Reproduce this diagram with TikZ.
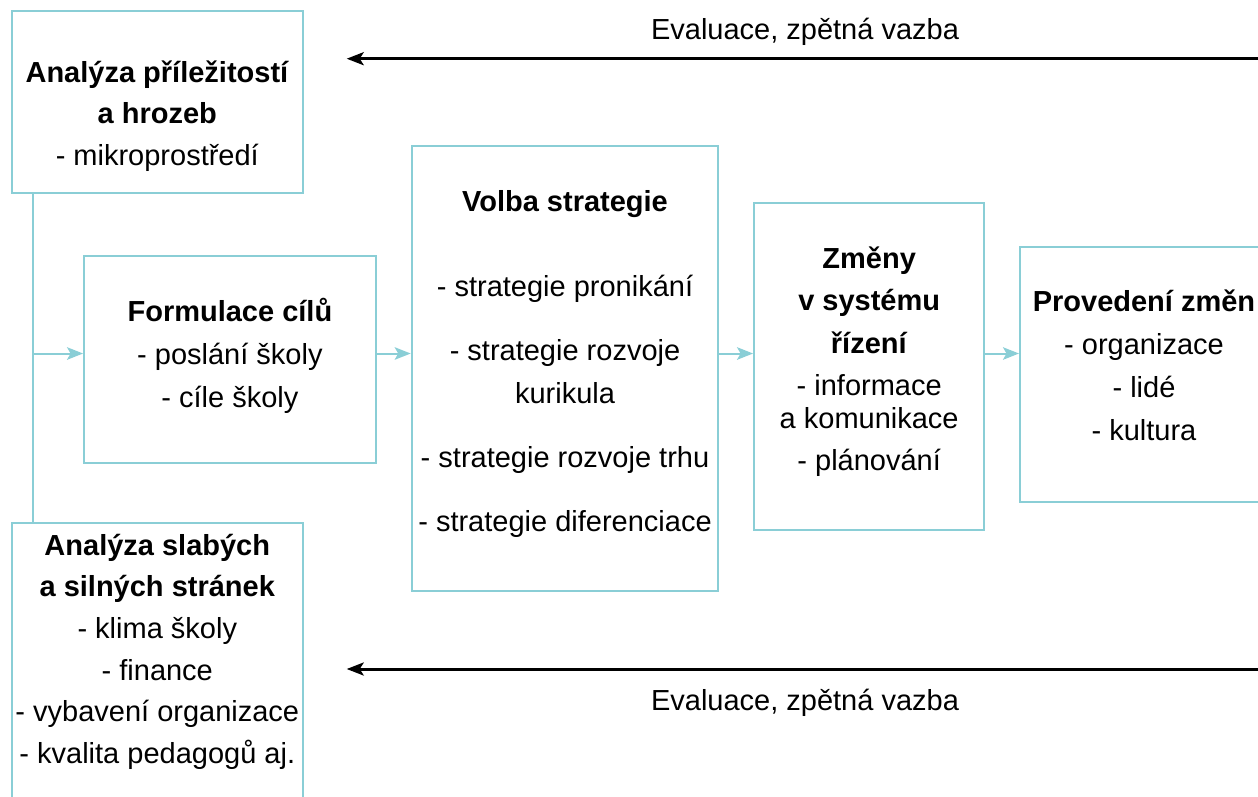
\documentclass[tikz,border=0pt]{standalone}
\usepackage{fontspec}
\setmainfont{Liberation Sans}
\usetikzlibrary{arrows.meta}
\definecolor{boxline}{RGB}{138,206,214}

\begin{document}
\begin{tikzpicture}[x=1pt,y=-1pt,
  stage/.style={draw=boxline, line width=2pt, inner sep=0pt, fill=none},
  txt/.style={anchor=base, inner sep=0pt, font=\fontsize{29}{35}\selectfont},
  flow/.style={draw=boxline, line width=2pt,
    -{Stealth[length=16pt,width=12.5pt,inset=3.5pt]}},
  feedback/.style={draw=black, line width=3pt,
    -{Stealth[length=17pt,width=13pt,inset=4pt]}}]

\useasboundingbox (0,0) rectangle (1258,796);
\clip (0,0) rectangle (1258,796);

% process boxes
\node[stage, minimum width=291.3pt, minimum height=182pt]   (threats)    at (157.3,102)   {};
\node[stage, minimum width=291.3pt, minimum height=297pt]   (strengths)  at (157.3,671.2) {};
\node[stage, minimum width=291.7pt, minimum height=206.7pt] (goals)      at (229.9,359.4) {};
\node[stage, minimum width=306.6pt, minimum height=445pt]   (strategy)   at (565,368.5)   {};
\node[stage, minimum width=230.3pt, minimum height=327.3pt] (management) at (869.2,366.4) {};
\node[stage, minimum width=248pt,   minimum height=254.4pt] (execution)  at (1144,374.5)  {};

% box texts, one node per line at its baseline
\foreach \s/\y [count=\i] in {{\textbf{Analýza příležitostí}}/82,
    {\textbf{a hrozeb}}/123.5, {- mikroprostředí}/165}
  \node[txt] (threats-\i) at (157.3,\y) {\s};

\foreach \s/\y [count=\i] in {{\textbf{Analýza slabých}}/555,
    {\textbf{a silných stránek}}/596.7, {- klima školy}/638.4,
    {- finance}/680.1, {- vybavení organizace}/721.8,
    {- kvalita pedagogů aj.}/763.5}
  \node[txt] (strengths-\i) at (157.3,\y) {\s};

\foreach \s/\y [count=\i] in {{\textbf{Formulace cílů}}/321,
    {- poslání školy}/364, {- cíle školy}/407}
  \node[txt] (goals-\i) at (229.9,\y) {\s};

\foreach \s/\y [count=\i] in {{\textbf{Volba strategie}}/211.7,
    {- strategie pronikání}/296.7, {- strategie rozvoje}/360.5,
    {kurikula}/403.3, {- strategie rozvoje trhu}/467.7,
    {- strategie diferenciace}/531}
  \node[txt] (strategy-\i) at (565,\y) {\s};

\foreach \s/\y [count=\i] in {{\textbf{Změny}}/268.3,
    {\textbf{v systému}}/310.7, {\textbf{řízení}}/353.3,
    {- informace}/395, {a komunikace}/428.3, {- plánování}/470}
  \node[txt] (management-\i) at (869.2,\y) {\s};

\foreach \s/\y [count=\i] in {{\textbf{Provedení změn}}/311.7,
    {- organizace}/354.5, {- lidé}/397.5, {- kultura}/440.7}
  \node[txt] (execution-\i) at (1144,\y) {\s};

% feedback labels
\node[txt] (evalTop) at (805,39) {Evaluace, zpětná vazba};
\node[txt] (evalBottom) at (805,710) {Evaluace, zpětná vazba};

% spine joining the two analyses
\coordinate (spine) at (32.7,353.5);
\draw[boxline, line width=2pt] (threats.south -| spine) -- (strengths.north -| spine);

% main flow
\draw[flow] (spine) -- (spine -| goals.west);
\draw[flow] (spine -| goals.east) -- (spine -| strategy.west);
\draw[flow] (spine -| strategy.east) -- (spine -| management.west);
\draw[flow] (spine -| management.east) -- (spine -| execution.west);

% feedback arrows
\coordinate (fbTopStart) at (1270,58.7);
\coordinate (fbTopEnd) at (346.7,58.7);
\coordinate (fbBottomStart) at (1270,669);
\coordinate (fbBottomEnd) at (346.7,669);
\draw[feedback] (fbTopStart) -- (fbTopEnd);
\draw[feedback] (fbBottomStart) -- (fbBottomEnd);
\end{tikzpicture}
\end{document}
